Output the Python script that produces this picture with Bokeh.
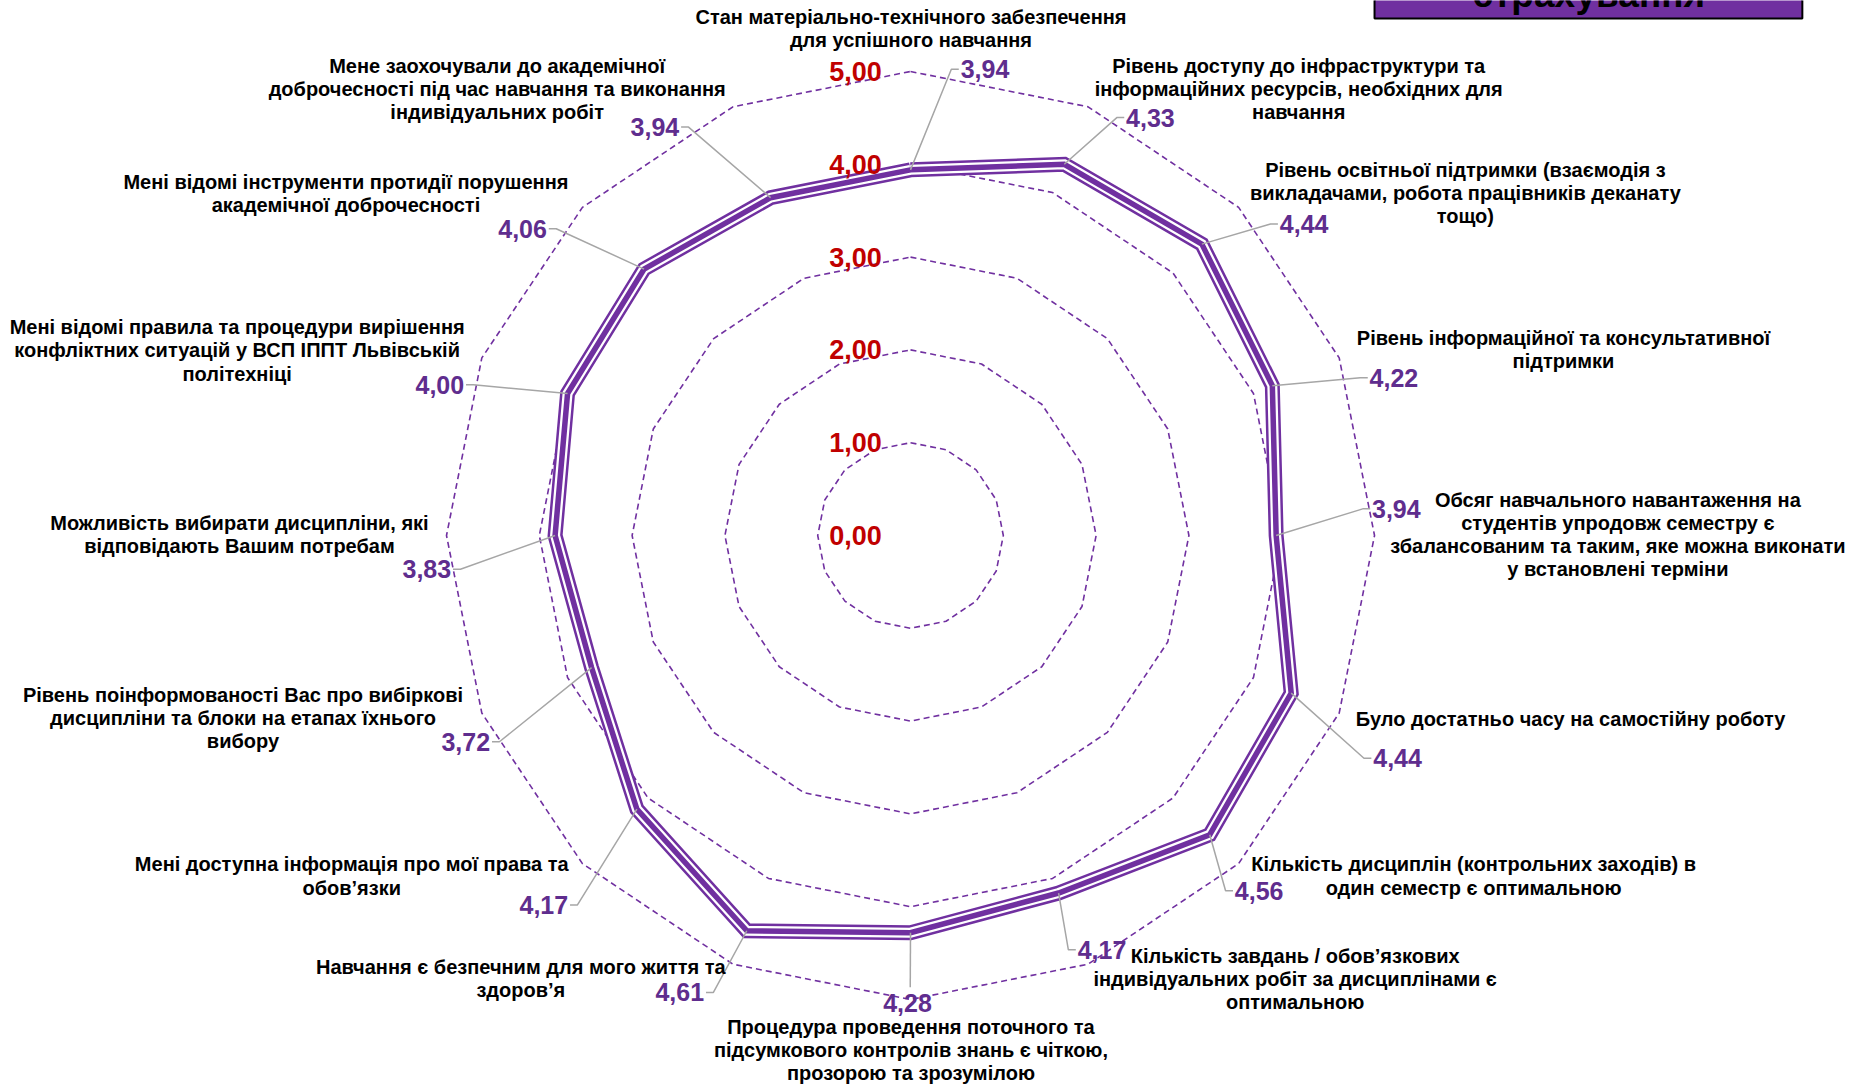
import numpy as np
from bokeh.plotting import figure
from bokeh.models import Range1d
from bokeh.core.properties import value
from bokeh.embed import file_html
from bokeh.resources import INLINE

# ---------------- data ----------------
categories = [
    "Стан матеріально-технічного забезпечення\nдля успішного навчання",
    "Рівень доступу до інфраструктури та\nінформаційних ресурсів, необхідних для\nнавчання",
    "Рівень освітньої підтримки (взаємодія з\nвикладачами, робота працівників деканату\nтощо)",
    "Рівень інформаційної та консультативної\nпідтримки",
    "Обсяг навчального навантаження на\nстудентів упродовж семестру є\nзбалансованим та таким, яке можна виконати\nу встановлені терміни",
    "Було достатньо часу на самостійну роботу",
    "Кількість дисциплін (контрольних заходів) в\nодин семестр є оптимальною",
    "Кількість завдань / обов’язкових\nіндивідуальних робіт за дисциплінами є\nоптимальною",
    "Процедура проведення поточного та\nпідсумкового контролів знань є чіткою,\nпрозорою та зрозумілою",
    "Навчання є безпечним для мого життя та\nздоров’я",
    "Мені доступна інформація про мої права та\nобов’язки",
    "Рівень поінформованості Вас про вибіркові\nдисципліни та блоки на етапах їхнього\nвибору",
    "Можливість вибирати дисципліни, які\nвідповідають Вашим потребам",
    "Мені відомі правила та процедури вирішення\nконфліктних ситуацій у ВСП ІППТ Львівській\nполітехніці",
    "Мені відомі інструменти протидії порушення\nакадемічної доброчесності",
    "Мене заохочували до академічної\nдоброчесності під час навчання та виконання\nіндивідуальних робіт",
]
values = [3.94, 4.33, 4.44, 4.22, 3.94, 4.44, 4.56, 4.17,
          4.28, 4.61, 4.17, 3.72, 3.83, 4.00, 4.06, 3.94]
ring_values = [1, 2, 3, 4, 5]
tick_values = [0, 1, 2, 3, 4, 5]
tick_labels = ["0,00", "1,00", "2,00", "3,00", "4,00", "5,00"]
title_text = "страхування"

# ---------------- layout (label placement, in value units from centre) ----------------
val_label_xy = [(0.795, 5.025), (2.578, 4.503), (4.234, 3.357), (5.202, 1.701),
                (5.228, 0.287), (5.241, -2.401), (3.750, -3.828), (2.056, -4.465),
                (-0.033, -5.038), (-2.479, -4.924), (-3.944, -3.981), (-4.785, -2.223),
                (-5.205, -0.363), (-5.065, 1.624), (-4.173, 3.306), (-2.747, 4.401)]
cat_label_xy = [(0.005, 5.459), (4.183, 4.809), (5.979, 3.688), (7.036, 2.0),
                (7.622, 0.013), (7.113, -1.981), (6.068, -3.669), (4.145, -4.783),
                (0.005, -5.548), (-4.199, -4.777), (-6.021, -3.669), (-7.193, -1.968),
                (-7.231, 0.013), (-7.256, 1.994), (-6.084, 3.682), (-4.454, 4.809)]

PURPLE = "#7030A0"
VAL_COLOR = "#5F2D8E"
RED = "#C00000"
GRAY = "#A6A6A6"
CAT_FONT = "Liberation Sans"

n = len(categories)
theta = np.pi / 2 - np.arange(n) * 2 * np.pi / n
cos_t, sin_t = np.cos(theta), np.sin(theta)

p = figure(width=1854, height=1084, output_backend="svg", toolbar_location=None,
           x_range=Range1d(-9.806, 10.172), y_range=Range1d(-5.916, 5.765),
           min_border=0, outline_line_color=None)
p.axis.visible = False
p.grid.visible = False
p.background_fill_color = "white"

# dashed rings (16-gons)
for r in ring_values:
    xs = list(r * cos_t) + [r * cos_t[0]]
    ys = list(r * sin_t) + [r * sin_t[0]]
    p.line(xs, ys, line_color=PURPLE, line_width=1.6, line_dash="6 4")

# data polygon, compound (thin-thick-thin) line
vx = np.array(values) * cos_t
vy = np.array(values) * sin_t
px = list(vx) + [vx[0]]
py = list(vy) + [vy[0]]
p.line(px, py, line_color=PURPLE, line_width=15, line_join="miter")
p.line(px, py, line_color="white", line_width=10, line_join="miter")
p.line(px, py, line_color=PURPLE, line_width=5.5, line_join="miter")

# leader lines + value labels
half_w = 0.255
for i, v in enumerate(values):
    lx, ly = val_label_xy[i]
    txt = f"{v:.2f}".replace(".", ",")
    if i == 8:
        p.line([vx[i], lx + 0.03], [vy[i], ly + 0.17], line_color=GRAY, line_width=1.5)
        p.text([lx], [ly], text=[txt], text_align="center", text_baseline="middle",
               text_font=value(CAT_FONT), text_font_style="bold",
               text_font_size="25px", text_color=VAL_COLOR)
    elif i < 8:
        left = lx - half_w
        p.line([vx[i], left - 0.1, left - 0.02], [vy[i], ly, ly],
               line_color=GRAY, line_width=1.5)
        p.text([left], [ly], text=[txt], text_align="left", text_baseline="middle",
               text_font=value(CAT_FONT), text_font_style="bold",
               text_font_size="25px", text_color=VAL_COLOR)
    else:
        right = lx + half_w
        p.line([vx[i], right + 0.1, right + 0.02], [vy[i], ly, ly],
               line_color=GRAY, line_width=1.5)
        p.text([right], [ly], text=[txt], text_align="right", text_baseline="middle",
               text_font=value(CAT_FONT), text_font_style="bold",
               text_font_size="25px", text_color=VAL_COLOR)

# tick labels
p.text([-0.31] * len(tick_values), tick_values, text=tick_labels,
       text_align="right", text_baseline="middle",
       text_font=value("Liberation Sans"), text_font_style="bold",
       text_font_size="27px", text_color=RED)

# category labels
p.text([c[0] for c in cat_label_xy], [c[1] for c in cat_label_xy], text=categories,
       text_align="center", text_baseline="middle", text_line_height=1.05,
       text_font=value(CAT_FONT), text_font_style="bold",
       text_font_size="20px", text_color="black")

# title box (cut off at the top)
p.quad(left=[5.0], right=[9.61], bottom=[5.571], top=[6.2],
       fill_color=PURPLE, line_color="black", line_width=2)
p.text([7.31], [5.61], text=[title_text], text_align="center",
       text_baseline="bottom", text_font=value("Liberation Sans"),
       text_font_style="bold", text_font_size="37px", text_color="black")

open("out.html", "w").write(file_html(p, INLINE))
